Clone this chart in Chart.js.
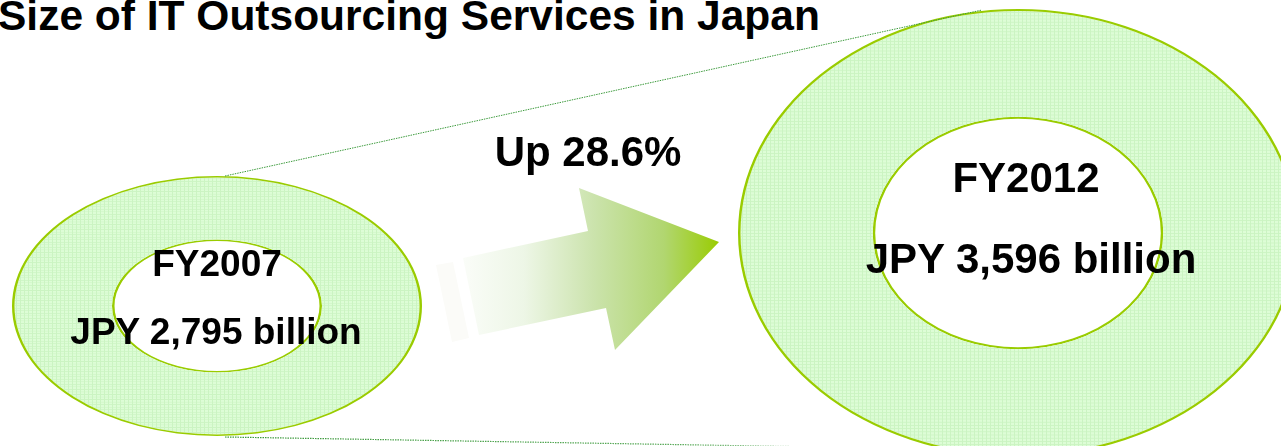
<!DOCTYPE html>
<html>
<head>
<meta charset="utf-8">
<script src="https://cdn.jsdelivr.net/npm/chart.js"></script>
<style>
  html, body { margin: 0; padding: 0; background: #fff; }
  body { width: 1281px; height: 446px; position: relative; overflow: hidden;
         font-family: "Liberation Sans", Arial, sans-serif; font-weight: bold; color: #000; }
  canvas.ring { position: absolute; }
  svg { position: absolute; left: 0; top: 0; }
  .txt { position: absolute; line-height: 1; white-space: nowrap; text-align: center; width: 600px; }
  h1 { position: absolute; margin: 0; left: -2px; top: -5px; font-size: 42.5px; line-height: 1; white-space: nowrap; }
</style>
</head>
<body>
<h1>Size of IT Outsourcing Services in Japan</h1>

<canvas id="ring0" class="ring"></canvas>
<canvas id="ring1" class="ring"></canvas>

<svg width="1281" height="446">
  <defs>
    <linearGradient id="arrowGrad" gradientUnits="userSpaceOnUse" x1="440" y1="0" x2="720" y2="0">
      <stop offset="0" stop-color="#ffffff"/>
      <stop offset="0.3" stop-color="#edf6e6"/>
      <stop offset="0.55" stop-color="#cbe3ac"/>
      <stop offset="0.8" stop-color="#b1d670"/>
      <stop offset="1" stop-color="#99cc00"/>
    </linearGradient>
    <linearGradient id="fadeLine" gradientUnits="userSpaceOnUse" x1="225" y1="0" x2="880" y2="0">
      <stop offset="0" stop-color="#3c9a3c"/>
      <stop offset="0.7" stop-color="#5aaa5a"/>
      <stop offset="1" stop-color="#e6f2e6"/>
    </linearGradient>
  </defs>
  <line x1="225" y1="176" x2="982" y2="10" stroke="#3c9a3c" stroke-width="1" stroke-dasharray="1.5 1"/>
  <line x1="225" y1="437" x2="880" y2="448" stroke="url(#fadeLine)" stroke-width="1.2" stroke-dasharray="1.5 1"/>
  <polygon points="436,265 453,262 469,338 452,342" fill="#fbfbf8"/>
  <polygon points="463,258 588,231 579,188 719,242 615,350 606,308 479,335" fill="url(#arrowGrad)"/>
</svg>

<div class="txt" id="growth" style="font-size:42px; left:288px; top:131px;"></div>
<div class="txt" id="year0" style="font-size:37px; left:-83px; top:245px;"></div>
<div class="txt" id="val0" style="font-size:37px; left:-84px; top:313px;"></div>
<div class="txt" id="year1" style="font-size:42px; left:726px; top:157px;"></div>
<div class="txt" id="val1" style="font-size:42px; left:731px; top:238px;"></div>

<script>
// market size, JPY billion
const years = ['FY2007', 'FY2012'];
const sizes = [2795, 3596];
const growthLabel = 'Up 28.6%';

// where each ring sits on the page (centre, horizontal radius, vertical squash)
const rings = [
  { cx: 217, cy: 306, rx: 205, squash: 130 / 205, cutout: '50%', border: 2.5 },
  { cx: 1018, cy: 233, rx: 280, squash: 224 / 280, cutout: '51%', border: 2.5 }
];

const lineGreen = '#99cc00';

// light green fill with a fine grid texture
function makePattern() {
  const c = document.createElement('canvas');
  c.width = 4; c.height = 4;
  const g = c.getContext('2d');
  g.fillStyle = '#ddfdd6';
  g.fillRect(0, 0, 4, 4);
  g.fillStyle = '#cbf4c2';
  g.fillRect(0, 0, 4, 1);
  g.fillRect(0, 0, 1, 4);
  return g.createPattern(c, 'repeat');
}

// squash the round doughnut into an ellipse
const squashPlugin = {
  id: 'squash',
  beforeDatasetsDraw(chart, args, opts) {
    const { ctx, chartArea } = chart;
    const x = (chartArea.left + chartArea.right) / 2;
    const y = (chartArea.top + chartArea.bottom) / 2;
    ctx.save();
    ctx.translate(x, y);
    ctx.scale(1, opts.ratio);
    ctx.translate(-x, -y);
  },
  afterDatasetsDraw(chart) {
    chart.ctx.restore();
  }
};

years.forEach((year, i) => {
  const r = rings[i];
  const cv = document.getElementById('ring' + i);
  cv.width = r.rx * 2;
  cv.height = r.rx * 2;
  cv.style.left = (r.cx - r.rx) + 'px';
  cv.style.top = (r.cy - r.rx) + 'px';

  const ringWidth = r.rx * (1 - parseFloat(r.cutout) / 100);
  const pattern = makePattern();

  new Chart(cv, {
    type: 'doughnut',
    data: {
      labels: [year],
      datasets: [
        { data: [sizes[i]], backgroundColor: lineGreen, borderWidth: 0, weight: r.border },
        { data: [sizes[i]], backgroundColor: pattern, borderWidth: 0, weight: ringWidth - 2 * r.border },
        { data: [sizes[i]], backgroundColor: lineGreen, borderWidth: 0, weight: r.border }
      ]
    },
    options: {
      responsive: false,
      animation: false,
      cutout: r.cutout,
      events: [],
      layout: { padding: 0 },
      plugins: {
        legend: { display: false },
        tooltip: { enabled: false },
        squash: { ratio: r.squash }
      }
    },
    plugins: [squashPlugin]
  });

  document.getElementById('year' + i).textContent = year;
  document.getElementById('val' + i).textContent = 'JPY ' + sizes[i].toLocaleString('en-US') + ' billion';
});

document.getElementById('growth').textContent = growthLabel;
</script>
</body>
</html>
